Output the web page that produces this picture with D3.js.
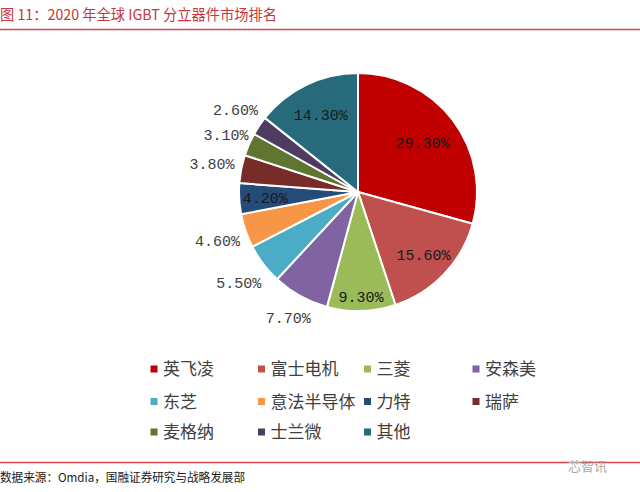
<!DOCTYPE html>
<html><head><meta charset="utf-8">
<script src="https://cdn.jsdelivr.net/npm/d3@7"></script>
<style>
html,body{margin:0;padding:0;background:#fff;}
svg{display:block;}
</style></head>
<body>
<svg id="c" width="640" height="492"></svg>
<script>
const categories = ["英飞凌","富士电机","三菱","安森美","东芝","意法半导体","力特","瑞萨","麦格纳","士兰微","其他"];
const values = [29.3,15.6,9.3,7.7,5.5,4.6,4.2,3.8,3.1,2.6,14.3];
const valueLabels = ["29.30%","15.60%","9.30%","7.70%","5.50%","4.60%","4.20%","3.80%","3.10%","2.60%","14.30%"];
const titleText = "图 11：2020 年全球 IGBT 分立器件市场排名";
const sourceText = "数据来源：Omdia，国融证券研究与战略发展部";

const colors = ["#C00000","#C0504D","#9BBB59","#8064A2","#4BACC6","#F79646","#254B78","#772C2A","#5F7530","#4D3B62","#276A7C"];
const labelR = [0.68,0.76,0.88,1.21,1.26,1.25,0.78,1.25,1.21,1.24,0.72];
const inside = [true,true,true,false,false,false,true,false,false,false,true];

const svg = d3.select("#c");
const cx = 358, cy = 192, R = 119;

// title
svg.append("text").attr("x",0).attr("y",20)
  .attr("font-family","'Noto Sans CJK SC'").attr("font-size",15)
  .attr("fill","#C8363D").attr("textLength",277).attr("lengthAdjust","spacingAndGlyphs")
  .text(titleText);
svg.append("line").attr("x1",0).attr("x2",640).attr("y1",29.5).attr("y2",29.5)
  .attr("stroke","#D9434B").attr("stroke-width",1.5);

const pie = d3.pie().sort(null).value(d=>d)(values);
const arc = d3.arc().innerRadius(0).outerRadius(R);
const g = svg.append("g").attr("transform",`translate(${cx},${cy})`);
g.selectAll("path").data(pie).join("path")
  .attr("d",arc).attr("fill",(d,i)=>colors[i])
  .attr("stroke","#fff").attr("stroke-width",2).attr("stroke-linejoin","round");

g.selectAll("text.lbl").data(pie).join("text").attr("class","lbl")
  .attr("transform",(d,i)=>{
    const a=(d.startAngle+d.endAngle)/2, r=R*labelR[i];
    return `translate(${r*Math.sin(a)},${-r*Math.cos(a)})`;})
  .attr("text-anchor","middle").attr("dy","0.36em")
  .attr("font-family","'Liberation Mono'").attr("font-size",15)
  .attr("fill",(d,i)=>inside[i]?"#1a1a1a":"#404040")
  .text((d,i)=>valueLabels[i]);

// legend
const colX = [150.5,258,364,472.5];
const rowY = [369,401.5,432];
const lg = svg.append("g");
categories.forEach((c,i)=>{
  const x=colX[i%4], y=rowY[Math.floor(i/4)];
  lg.append("rect").attr("x",x).attr("y",y-3.5).attr("width",7).attr("height",7).attr("fill",colors[i]);
  lg.append("text").attr("x",x+12.5).attr("y",y).attr("dy","0.36em")
    .attr("font-family","'Noto Sans CJK SC'").attr("font-size",17).attr("fill","#404040").text(c);
});

// footer
svg.append("line").attr("x1",0).attr("x2",640).attr("y1",462.5).attr("y2",462.5)
  .attr("stroke","#D9434B").attr("stroke-width",1.5);
svg.append("text").attr("x",0).attr("y",482)
  .attr("font-family","'Noto Sans CJK SC'").attr("font-size",12).attr("fill","#1a1a1a")
  .attr("textLength",245).attr("lengthAdjust","spacingAndGlyphs")
  .text(sourceText);
svg.append("text").attr("x",568).attr("y",471)
  .attr("font-family","'Noto Sans CJK SC'").attr("font-size",13).attr("fill","#aaa").text("芯智讯");
</script>
</body></html>
